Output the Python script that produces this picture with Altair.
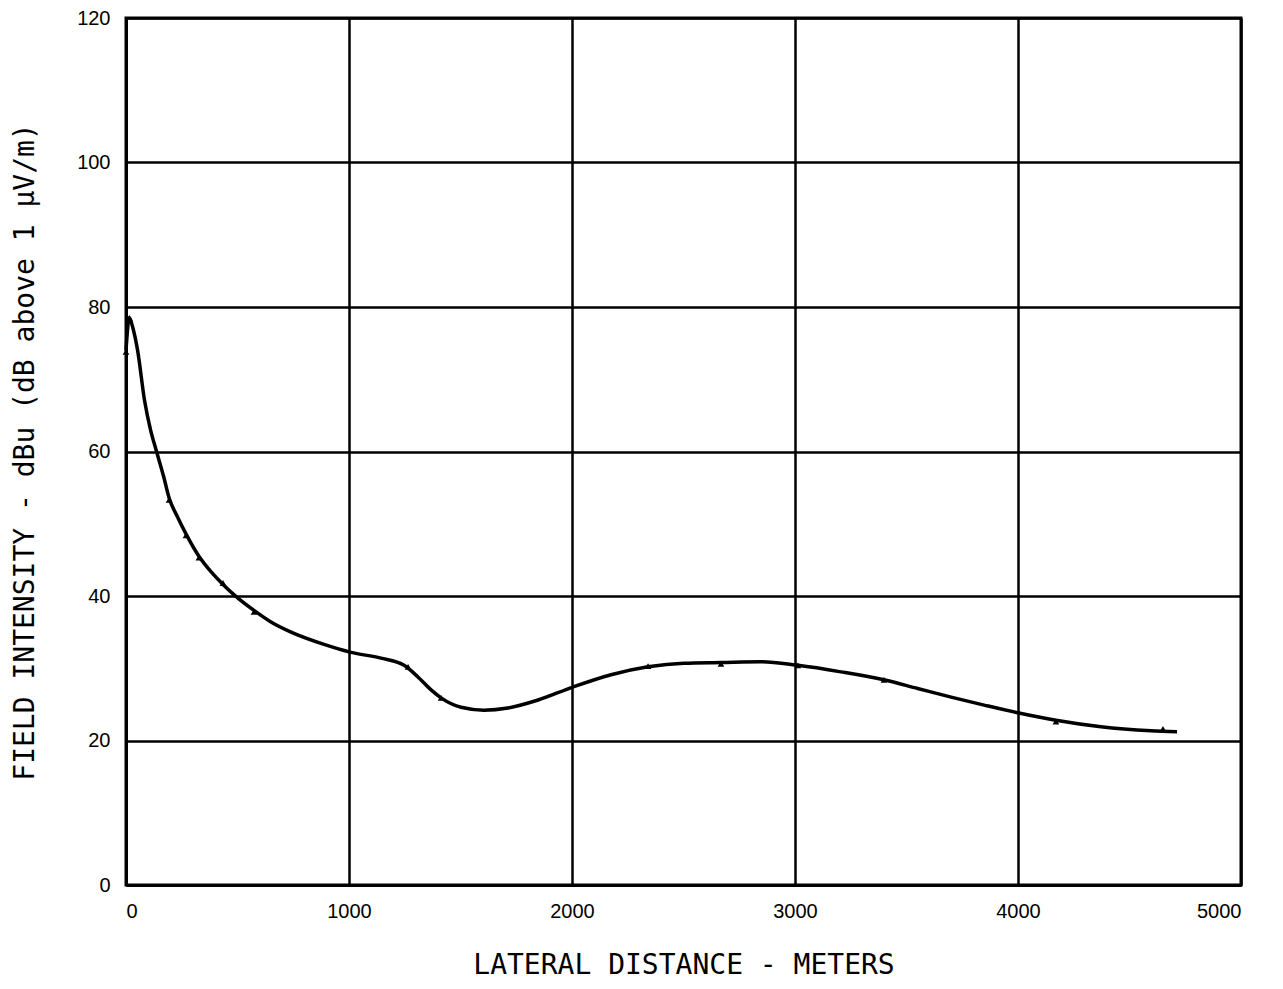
import altair as alt
import pandas as pd

# Smoothed curve
curve_x = [0, 15, 30, 52, 83, 110, 135, 170, 193, 230, 269, 327, 380, 435, 502, 574,
           650, 740, 888, 1009, 1143, 1247, 1309, 1368, 1413, 1502, 1605, 1713, 1848,
           2004, 2175, 2341, 2502, 2668, 2848, 3013, 3206, 3399, 3550, 3700, 3848,
           4004, 4170, 4372, 4596, 4713]
curve_y = [74.0, 78.5, 77.2, 74.0, 67.1, 63.0, 60.2, 56.4, 53.6, 51.0, 48.6, 45.5,
           43.4, 41.6, 39.7, 38.0, 36.4, 35.0, 33.3, 32.2, 31.4, 30.4, 28.8, 27.0,
           25.9, 24.6, 24.2, 24.5, 25.6, 27.4, 29.1, 30.2, 30.7, 30.8, 30.9, 30.4,
           29.5, 28.4, 27.2, 26.0, 24.9, 23.8, 22.8, 21.9, 21.35, 21.2]

# Measured points
pt_x = [0, 15, 193, 269, 327, 435, 574, 1265, 1413, 2341, 2668, 3013, 3399, 4170, 4650]
pt_y = [73.8, 78.5, 53.3, 48.4, 45.3, 41.8, 37.8, 30.2, 25.9, 30.3, 30.6, 30.4, 28.4,
        22.6, 21.6]

x_ticks = [0, 1000, 2000, 3000, 4000, 5000]
y_ticks = [0, 20, 40, 60, 80, 100, 120]

x_title = "LATERAL DISTANCE - METERS"
y_title = "FIELD INTENSITY - dBu (dB above 1 µV/m)"

curve_df = pd.DataFrame({"x": curve_x, "y": curve_y})
pt_df = pd.DataFrame({"x": pt_x, "y": pt_y})

xenc = alt.X("x:Q", scale=alt.Scale(domain=[0, 5000], nice=False),
             axis=alt.Axis(values=x_ticks, title=x_title, labelPadding=16,
                           titlePadding=30, format="d"))
yenc = alt.Y("y:Q", scale=alt.Scale(domain=[0, 120], nice=False),
             axis=alt.Axis(values=y_ticks, title=y_title, labelPadding=16,
                           titlePadding=37, format="d"))

line = alt.Chart(curve_df).mark_line(
    color="black", strokeWidth=3.5, interpolate="monotone"
).encode(x=xenc, y=yenc)

pts = alt.Chart(pt_df).mark_point(
    color="black", filled=True, size=45, shape="triangle-up", opacity=1
).encode(x="x:Q", y="y:Q")

chart = (line + pts).properties(
    width=1115, height=867, background="white",
    padding={"left": 3, "top": 0, "right": 5, "bottom": 2}
).configure_axis(
    grid=True, gridColor="black", gridWidth=2.5, gridOpacity=1,
    domainColor="black", domainWidth=3, ticks=False,
    labelFont="Liberation Sans", labelFontSize=20, labelColor="black",
    titleFont="DejaVu Sans Mono", titleFontSize=28, titleFontWeight="normal",
    titleColor="black"
).configure_view(stroke="black", strokeWidth=3)

chart.save("out.html", embed_options={"renderer": "svg", "actions": False})
